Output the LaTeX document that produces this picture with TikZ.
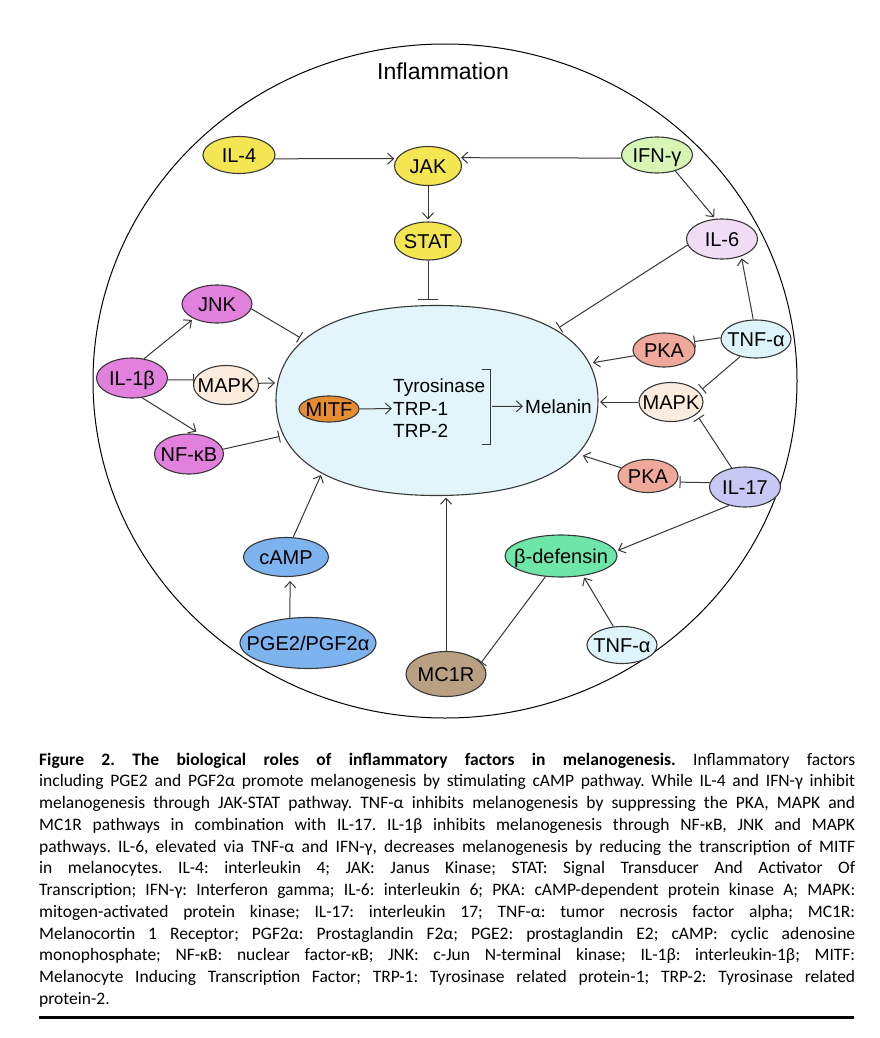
\documentclass[tikz,border=0pt]{standalone}
\usepackage{fontspec}
\setmainfont{Liberation Sans}
\newfontfamily\capfont{Carlito}
\usetikzlibrary{shapes.geometric,arrows.meta}
\definecolor{yel}{HTML}{F4E552}
\definecolor{mag}{HTML}{E280DE}
\definecolor{beige}{HTML}{FCECDE}
\definecolor{cellc}{HTML}{E1F5FA}
\definecolor{orng}{HTML}{E68C32}
\definecolor{tnfc}{HTML}{DDF5FA}
\definecolor{pkac}{HTML}{F0A89B}
\definecolor{ilsc}{HTML}{C8C8F5}
\definecolor{bluec}{HTML}{7DB4F0}
\definecolor{bdefc}{HTML}{6EE6AA}
\definecolor{ifnc}{HTML}{D7F5B4}
\definecolor{ilsixc}{HTML}{F0DCF5}
\definecolor{mcrc}{HTML}{B9A082}
\definecolor{edgec}{HTML}{383838}
\newcommand\tx[1]{\makebox[0pt]{\raisebox{-0.36em}[0pt][0pt]{#1}}}
\frenchspacing
\begin{document}
\begin{tikzpicture}[x=1pt,y=-1pt,
  ell/.style n args={3}{ellipse, draw=edgec, line width=1.1pt, fill=#1, minimum width=#2pt, minimum height=#3pt, inner sep=0pt, font=\fontsize{20}{24}\selectfont},
  act/.style={draw=edgec, line width=1pt, -{Straight Barb[length=6pt,width=11pt]}, shorten >=2pt},
  inh/.style={draw=edgec, line width=1pt, -{Bar[width=12pt]}},
  lbl/.style={inner sep=0pt, font=\fontsize{19}{23}\selectfont},
  capl/.style={anchor=base west, inner sep=0pt, font=\capfont\fontsize{17.5}{21}\selectfont},
]
\useasboundingbox (0,0) rectangle (880,1038);
\fill[white] (0,0) rectangle (880,1038);
\node[ellipse, draw=black, line width=1pt, minimum width=704pt, minimum height=674pt, inner sep=0pt] (infl) at (445,381) {};
\node[anchor=base, inner sep=0pt, font=\fontsize{23}{27}\selectfont] (title) at (443,80) {Inflammation};

% cell (slightly squarish ellipse)
\coordinate (cell) at (437,400.5);
\draw[draw=edgec, line width=1.1pt, fill=cellc]
  (598,400.5) .. controls (598,461.3) and (540,495.5) .. (437,495.5)
  .. controls (334,495.5) and (276,461.3) .. (276,400.5)
  .. controls (276,339.7) and (334,305.5) .. (437,305.5)
  .. controls (540,305.5) and (598,339.7) .. (598,400.5) -- cycle;
\coordinate (cSTAT) at (428,300);
\coordinate (cJNK) at (300,337.5);
\coordinate (cIL6) at (559,327.5);
\coordinate (cPKA1) at (591,363);
\coordinate (cMAPKR) at (598,402);
\coordinate (cPKA2) at (581,455);
\coordinate (cMC1R) at (446,495.5);
\coordinate (cCAMP) at (321,475);
\coordinate (cNFkB) at (279.5,436.5);
\coordinate (cMAPKL) at (277,383);

\node[ell={yel}{72}{37}] (IL4) at (239,155) {\tx{IL-4}};
\node[ell={yel}{67}{39}] (JAK) at (428,166) {\tx{JAK}};
\node[ell={ifnc}{71}{36}] (IFN) at (657,155) {\tx{IFN-γ}};
\node[ell={yel}{67}{38}] (STAT) at (428,241) {\tx{STAT}};
\node[ell={ilsixc}{71}{40}] (IL6) at (722,239) {\tx{IL-6}};
\node[ell={mag}{70}{38}] (JNK) at (217,304) {\tx{JNK}};
\node[ell={mag}{71}{40}] (IL1b) at (132,378) {\tx{IL-1β}};
\node[ell={beige}{65}{39}] (MAPKL) at (226,385) {\tx{MAPK}};
\node[ell={mag}{69}{40}] (NFkB) at (189,454) {\tx{NF-κB}};
\node[ell={orng}{60}{26}] (MITF) at (329,409) {\tx{MITF}};
\node[ell={tnfc}{70}{38}] (TNF1) at (756,339) {\tx{TNF-α}};
\node[ell={pkac}{62}{34}] (PKA1) at (664,350) {\tx{PKA}};
\node[ell={beige}{64}{39}] (MAPKR) at (671,402) {\tx{MAPK}};
\node[ell={pkac}{60}{33}] (PKA2) at (648,476) {\tx{PKA}};
\node[ell={ilsc}{71}{40}] (IL17) at (745,487) {\tx{IL-17}};
\node[ell={bdefc}{112}{42}] (bdef) at (561,556) {\tx{β-defensin}};
\node[ell={tnfc}{70}{37}] (TNF2) at (622,645) {\tx{TNF-α}};
\node[ell={mcrc}{80}{45}] (MC1R) at (446,674) {\tx{MC1R}};
\node[ell={bluec}{85}{39}] (cAMP) at (286,557) {\tx{cAMP}};
\node[ell={bluec}{136}{51}] (PGE) at (308,643) {\tx{PGE2/PGF2α}};

\node[lbl, anchor=base west] (tyr) at (393,392) {Tyrosinase};
\node[lbl, anchor=base west] (trp1) at (393,415) {TRP-1};
\node[lbl, anchor=base west] (trp2) at (393,437) {TRP-2};
\node[lbl, anchor=base west] (mel) at (525,413) {Melanin};
\coordinate (bra) at (482,369);
\coordinate (brb) at (490,369);
\coordinate (brc) at (490,444);
\coordinate (brd) at (482,444);
\coordinate (brm) at (492,406.5);
\draw[edgec, line width=1pt] (bra) -- (brb) -- (brc) -- (brd);
\draw[act] (brm) -- (mel.west);
\draw[act, shorten >=1pt] (MITF.east) -- (trp1.west);

\draw[act] (IL4.-6) -- (JAK.167);
\draw[act] (IFN.185) -- (JAK.15);
\draw[act] (JAK.south) -- (STAT.north);
\draw[inh, -{Bar[width=20pt]}] (STAT.south) -- (cSTAT);
\draw[act] (IFN.-41) -- (IL6.108);
\draw[act] (TNF1.98) -- (IL6.-42);
\draw[inh] (IL6.190) -- (cIL6);
\draw[inh, shorten >=2pt] (TNF1.178) -- (PKA1.16);
\draw[act] (PKA1.191) -- (cPKA1);
\draw[act] (MAPKR.west) -- (cMAPKR);
\draw[inh, shorten >=4pt] (TNF1.228) -- (MAPKR.20);
\draw[inh, shorten >=4pt] (IL17.125) -- (MAPKR.-26);
\draw[inh, shorten >=3pt] (IL17.173) -- (PKA2.-12);
\draw[act] (PKA2.163) -- (cPKA2);
\draw[act] (IL17.229) -- (bdef.5);
\draw[act] (TNF2.115) -- (bdef.-42);
\draw[inh] (bdef.233) -- (MC1R.18);
\draw[act] (MC1R.north) -- (cMC1R);
\draw[act, shorten >=0pt] (cAMP.70) -- (cCAMP);
\draw[act, shorten >=4pt] (PGE.126) -- (cAMP.-78);
\draw[inh] (JNK.-8) -- (cJNK);
\draw[act] (IL1b.58) -- (JNK.212);
\draw[inh] (IL1b.-3) -- (MAPKL.171);
\draw[act] (MAPKL.3) -- (cMAPKL);
\draw[act, shorten >=6pt] (IL1b.-63) -- (NFkB.57);
\draw[inh] (NFkB.8) -- (cNFkB);

\node[capl] (c1) at (39,765) {\makebox[816pt][s]{\bfseries Figure 2. The biological roles of inflammatory factors in melanogenesis. \mdseries Inflammatory factors}};
\node[capl] (c2) at (39,786.75) {\makebox[816pt][s]{including PGE2 and PGF2α promote melanogenesis by stimulating cAMP pathway. While IL-4 and IFN-γ inhibit}};
\node[capl] (c3) at (39,808.5) {\makebox[816pt][s]{melanogenesis through JAK-STAT pathway. TNF-α inhibits melanogenesis by suppressing the PKA, MAPK and}};
\node[capl] (c4) at (39,830.25) {\makebox[816pt][s]{MC1R pathways in combination with IL-17. IL-1β inhibits melanogenesis through NF-κB, JNK and MAPK}};
\node[capl] (c5) at (39,852) {\makebox[816pt][s]{pathways. IL-6, elevated via TNF-α and IFN-γ, decreases melanogenesis by reducing the transcription of MITF}};
\node[capl] (c6) at (39,873.75) {\makebox[816pt][s]{in melanocytes. IL-4: interleukin 4; JAK: Janus Kinase; STAT: Signal Transducer And Activator Of}};
\node[capl] (c7) at (39,895.5) {\makebox[816pt][s]{Transcription; IFN-γ: Interferon gamma; IL-6: interleukin 6; PKA: cAMP-dependent protein kinase A; MAPK:}};
\node[capl] (c8) at (39,917.25) {\makebox[816pt][s]{mitogen-activated protein kinase; IL-17: interleukin 17; TNF-α: tumor necrosis factor alpha; MC1R:}};
\node[capl] (c9) at (39,939) {\makebox[816pt][s]{Melanocortin 1 Receptor; PGF2α: Prostaglandin F2α; PGE2: prostaglandin E2; cAMP: cyclic adenosine}};
\node[capl] (c10) at (39,960.75) {\makebox[816pt][s]{monophosphate; NF-κB: nuclear factor-κB; JNK: c-Jun N-terminal kinase; IL-1β: interleukin-1β; MITF:}};
\node[capl] (c11) at (39,982.5) {\makebox[816pt][s]{Melanocyte Inducing Transcription Factor; TRP-1: Tyrosinase related protein-1; TRP-2: Tyrosinase related}};
\node[capl] (c12) at (39,1004.25) {protein-2.};
\coordinate (rl) at (39,1017);
\coordinate (rr) at (854,1017);
\draw[line width=3pt] (rl) -- (rr);
\end{tikzpicture}
\end{document}
